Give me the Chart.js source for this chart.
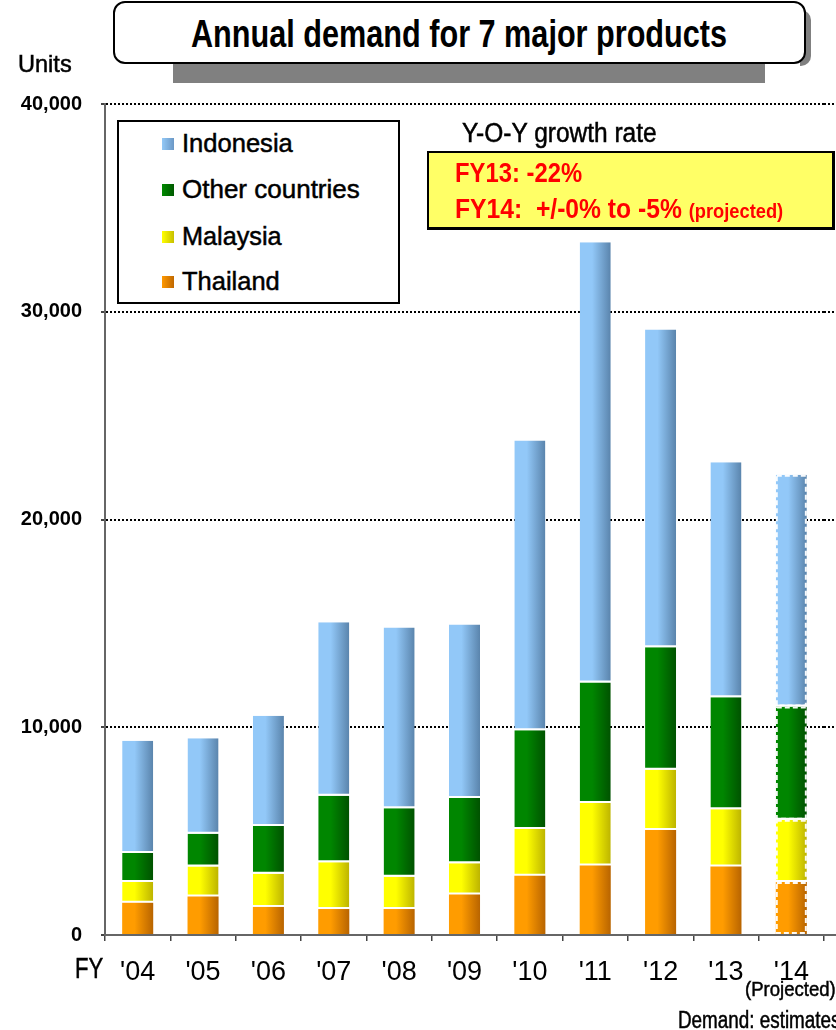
<!DOCTYPE html>
<html>
<head>
<meta charset="utf-8">
<script src="https://cdn.jsdelivr.net/npm/chart.js@4.4.1/dist/chart.umd.min.js"></script>
<style>
  html, body { margin: 0; padding: 0; background: #fff; overflow: hidden; }
  body { font-family: "Liberation Sans", Arial, sans-serif; }
  #wrap { position: relative; width: 836px; height: 1030px; overflow: hidden; }
  #chart { position: absolute; left: 0; top: 0; }
  .abs { position: absolute; white-space: nowrap; line-height: 1; transform-origin: 0 0; }
  .heavy { -webkit-text-stroke: 0.5px #000; }
  #title-shadow { left: 173px; top: 56px; width: 592px; height: 27px; background: #808080; }
  #title-shadow-r { left: 800px; top: 10px; width: 11px; height: 56px; background: #808080; border-radius: 0 10px 10px 0; }
  #title-box { left: 113px; top: 1px; width: 689px; height: 59px; border: 2px solid #000; border-radius: 12px; background: #fff; }
  #title { left: 191px; top: 15px; font-size: 38px; font-weight: bold; }
  #units { left: 18px; top: 52px; font-size: 24px; }
  #legend { left: 117px; top: 120px; width: 279px; height: 180px; border: 2px solid #000; background: #fff; }
  .lg { position: absolute; left: 63px; font-size: 26px; line-height: 1; white-space: nowrap; transform-origin: 0 0; }
  .mk { position: absolute; left: 43px; width: 12px; height: 12px; }
  #yoy-title { left: 462px; top: 120px; font-size: 27px; }
  #yoy { left: 427px; top: 151px; width: 403px; height: 74px; background: #ffff66; border: 2px solid #000; border-bottom-width: 3px; border-right-width: 3px; }
  .yt { color: #ff0000; font-weight: bold; font-size: 27px; }
  .yt small { font-size: 20px; }
  #fy { left: 75px; top: 953px; font-size: 30px; }
  #proj { left: 745px; top: 978px; font-size: 21px; }
  #note { left: 678px; top: 1009px; font-size: 23px; }
</style>
</head>
<body>
<div id="wrap">
  <canvas id="chart" width="836" height="1030"></canvas>

  <div class="abs" id="title-shadow"></div>
  <div class="abs" id="title-shadow-r"></div>
  <div class="abs" id="title-box"></div>
  <div class="abs" id="title" data-w="536">Annual demand for 7 major products</div>
  <div class="abs heavy" id="units" data-w="54">Units</div>

  <div class="abs" id="legend">
    <i class="mk" style="top:16px;background:linear-gradient(90deg,#93c9f7,#6b98c6)"></i>
    <div class="lg heavy" style="top:8px" data-w="111">Indonesia</div>
    <i class="mk" style="top:62px;background:linear-gradient(90deg,#008a00,#005a00)"></i>
    <div class="lg heavy" style="top:54px" data-w="178">Other countries</div>
    <i class="mk" style="top:109px;background:linear-gradient(90deg,#ffff00,#c8c000)"></i>
    <div class="lg heavy" style="top:101px" data-w="100">Malaysia</div>
    <i class="mk" style="top:154px;background:linear-gradient(90deg,#ff9900,#c06800)"></i>
    <div class="lg heavy" style="top:146px" data-w="98">Thailand</div>
  </div>

  <div class="abs heavy" id="yoy-title" data-w="195">Y-O-Y growth rate</div>
  <div class="abs" id="yoy"></div>
  <div class="abs yt" style="left:455px;top:160px" data-w="127">FY13: -22%</div>
  <div class="abs yt" style="left:455px;top:196px" data-w="328">FY14:&nbsp; +/-0% to -5% <small>(projected)</small></div>

  <div class="abs heavy" id="fy" data-w="28">FY</div>
  <div class="abs heavy" id="proj" data-w="91">(Projected)</div>
  <div class="abs heavy" id="note" data-s="0.82">Demand: estimates</div>
</div>

<script>
// ------------------------------------------------------------
// data (units)
// ------------------------------------------------------------
const years = ["'04", "'05", "'06", "'07", "'08", "'09", "'10", "'11", "'12", "'13", "'14"];
const thailand  = [1550, 1850, 1350, 1250, 1250, 1950, 2850, 3350, 5050, 3300, 2550];
const malaysia  = [1000, 1450, 1600, 2250, 1550, 1500, 2250, 3000, 2900, 2750, 3000];
const otherCtry = [1400, 1575, 2300, 3200, 3300, 3150, 4750, 5800, 5900, 5400, 5450];
const indonesia = [5400, 4600, 5300, 8350, 8700, 8350, 13950, 21200, 15300, 11300, 11150];
const yTicks = [0, 10000, 20000, 30000, 40000];
const projectedIdx = 10; // FY14 is a projection

const PLOT_LEFT = 105, PLOT_TOP = 104, PLOT_BOTTOM = 935, PLOT_RIGHT = 824;

// the reference uses a narrow face; squeeze Liberation Sans to the measured widths
document.querySelectorAll('[data-w],[data-s]').forEach(el => {
  const s = el.dataset.s ? parseFloat(el.dataset.s) : parseFloat(el.dataset.w) / el.offsetWidth;
  el.style.transform = `scaleX(${s})`;
});

// horizontal gradient across each bar (light left edge, dark right edge)
function barFill(light, dark) {
  return (c) => {
    const chart = c.chart;
    const xs = chart.scales && chart.scales.x;
    if (!xs || !chart.chartArea || c.dataIndex === undefined) return light;
    const cx = xs.getPixelForValue(c.dataIndex);
    const half = (xs.width / years.length) * 0.475 / 2;
    if (!isFinite(cx)) return light;
    const g = chart.ctx.createLinearGradient(cx - half, 0, cx + half, 0);
    g.addColorStop(0, light);
    g.addColorStop(0.4, light);
    g.addColorStop(1, dark);
    return g;
  };
}

// white gap sits at the bottom of each upper segment
function series(label, data, light, dark, gap) {
  return {
    label, data,
    backgroundColor: barFill(light, dark),
    borderColor: '#ffffff',
    borderWidth: { top: 0, left: 0, right: 0, bottom: gap ? 2 : 0 },
    borderSkipped: false,
    barPercentage: 0.475,
    categoryPercentage: 1,
  };
}

const extendGrid = {
  id: 'extendGrid',
  // dotted grid lines and the axis line run on to the right edge of the picture
  beforeDatasetsDraw(chart) {
    const { ctx, scales: { y }, chartArea } = chart;
    ctx.save();
    ctx.strokeStyle = '#000';
    ctx.lineWidth = 2;
    ctx.setLineDash([2, 2]);
    yTicks.forEach(v => {
      if (v === 0) return;
      const py = Math.round(y.getPixelForValue(v));
      ctx.beginPath();
      ctx.moveTo(chartArea.right, py);
      ctx.lineTo(chart.width, py);
      ctx.stroke();
    });
    ctx.setLineDash([]);
    ctx.strokeStyle = '#666';
    const py0 = y.getPixelForValue(0);
    ctx.beginPath();
    ctx.moveTo(chartArea.right, py0);
    ctx.lineTo(chart.width, py0);
    ctx.stroke();
    ctx.restore();
  },
  // projected bar: white dashed outline round each segment
  afterDatasetsDraw(chart) {
    const { ctx } = chart;
    ctx.save();
    ctx.strokeStyle = 'rgba(255,255,255,0.95)';
    ctx.lineWidth = 2;
    ctx.setLineDash([5, 3]);
    chart.data.datasets.forEach((ds, i) => {
      const bar = chart.getDatasetMeta(i).data[projectedIdx];
      if (!bar) return;
      const { x, y, base, width } = bar.getProps(['x', 'y', 'base', 'width'], true);
      ctx.strokeRect(x - width / 2 + 1, y + 1, width - 2, base - y - 2);
    });
    ctx.restore();
  },
};

let demandChart = new Chart(document.getElementById('chart'), {
  type: 'bar',
  data: {
    labels: years,
    datasets: [
      series('Thailand', thailand, '#ff9c00', '#b86400', false),
      series('Malaysia', malaysia, '#ffff00', '#bdb400', true),
      series('Other countries', otherCtry, '#008600', '#005200', true),
      series('Indonesia', indonesia, '#92c8f8', '#5a84ac', true),
    ],
  },
  options: {
    responsive: false,
    animation: false,
    layout: { padding: { left: 0, top: PLOT_TOP, right: 836 - PLOT_RIGHT, bottom: 0 } },
    plugins: { legend: { display: false }, tooltip: { enabled: false } },
    scales: {
      x: {
        stacked: true,
        afterFit: s => { s.height = 1030 - PLOT_BOTTOM; },
        border: { color: '#666', width: 2 },
        grid: { offset: true, drawOnChartArea: false, drawTicks: true, tickLength: 6, color: '#444', lineWidth: 1.5 },
        ticks: { color: '#000', padding: 15, font: { family: '"Liberation Sans", Arial, sans-serif', size: 27 } },
      },
      y: {
        stacked: true,
        min: 0, max: 40000,
        afterFit: s => { s.width = PLOT_LEFT; },
        afterBuildTicks: s => { s.ticks = yTicks.map(v => ({ value: v })); },
        border: { color: '#666', width: 2, dash: [2, 2] },
        grid: {
          color: '#000', lineWidth: 2, drawTicks: true, tickLength: 4,
          tickColor: '#444', tickBorderDash: [],
        },
        ticks: {
          color: '#000', padding: 19,
          font: { family: '"Liberation Sans", Arial, sans-serif', size: 20, weight: 'bold' },
          callback: v => v.toLocaleString('en-US'),
        },
      },
    },
  },
  plugins: [extendGrid],
});
</script>
</body>
</html>
